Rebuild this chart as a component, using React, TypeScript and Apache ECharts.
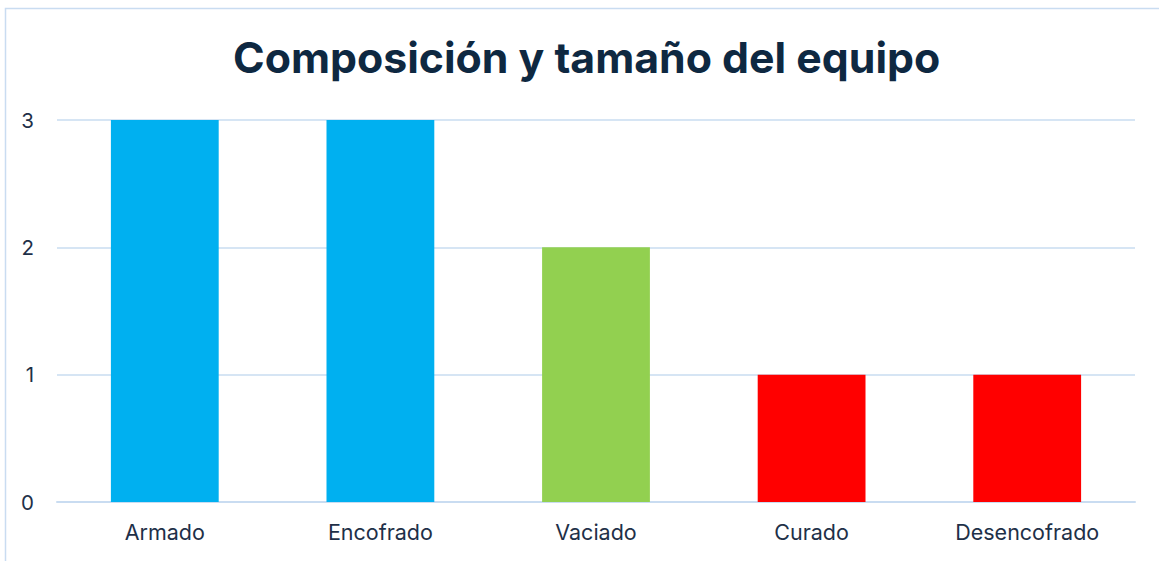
import React, { useEffect, useRef } from "react";
import * as echarts from "echarts";

const categories = ["Armado", "Encofrado", "Vaciado", "Curado", "Desencofrado"];
const values = [3, 3, 2, 1, 1];
const barColors = ["#00B0F0", "#00B0F0", "#92D050", "#FF0000", "#FF0000"];
const titleText = "Composición y tamaño del equipo";

export default function App() {
  const ref = useRef<HTMLDivElement>(null);
  useEffect(() => {
    if (!ref.current) return;
    const chart = echarts.init(ref.current, null, { renderer: "svg" });
    chart.setOption({
      animation: false,
      backgroundColor: "#ffffff",
      title: {
        text: titleText,
        left: 228,
        top: 31,
        itemGap: 0,
        textStyle: {
          fontFamily: "Inter, 'Open Sans', sans-serif",
          fontSize: 42.8,
          fontWeight: "bold",
          color: "#0E2841",
        },
      },
      graphic: [
        {
          type: "rect",
          shape: { x: 5.5, y: 8.5, width: 1300, height: 700 },
          style: { fill: "none", stroke: "#C9DCF1", lineWidth: 1.5 },
          silent: true,
        },
      ],
      grid: { left: 57, right: 24, top: 120, bottom: 59, containLabel: false },
      xAxis: {
        type: "category",
        data: categories,
        axisLine: { show: true, lineStyle: { color: "#C9DCF1", width: 2 } },
        axisTick: { show: false },
        axisLabel: {
          color: "#1E3048",
          fontSize: 21.5,
          fontFamily: "Inter, 'Open Sans', sans-serif",
          margin: 19,
        },
      },
      yAxis: {
        type: "value",
        min: 0,
        max: 3,
        interval: 1,
        axisLine: { show: false },
        axisTick: { show: false },
        splitLine: { lineStyle: { color: "#C9DCF1", width: 1.5 } },
        axisLabel: {
          color: "#1E3048",
          fontSize: 20.5,
          fontFamily: "Inter, 'Open Sans', sans-serif",
          margin: 23,
        },
      },
      series: [
        {
          type: "bar",
          barWidth: "50%",
          data: values.map((v, i) => ({ value: v, itemStyle: { color: barColors[i] } })),
        },
      ],
    });
    return () => chart.dispose();
  }, []);
  return (
    <div
      ref={ref}
      style={{ position: "fixed", left: 0, top: 0, width: 1159, height: 561 }}
    />
  );
}
